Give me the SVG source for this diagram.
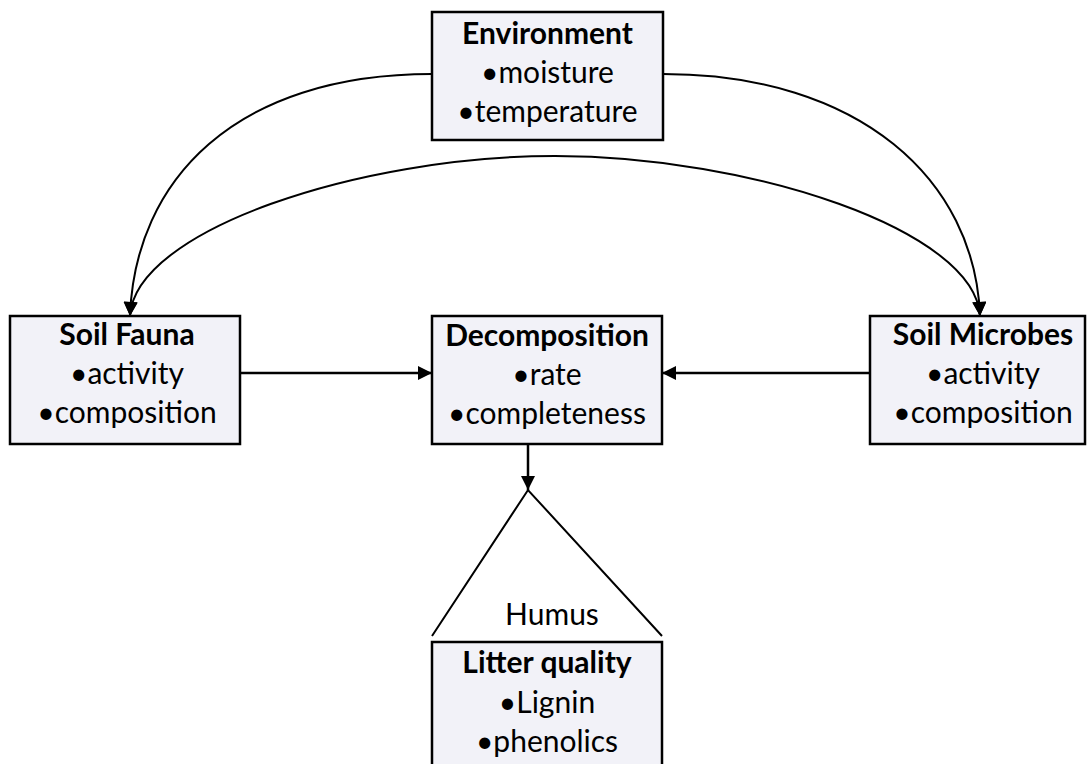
<svg xmlns="http://www.w3.org/2000/svg" width="1090" height="764" viewBox="0 0 1090 764">
<style>
.box{fill:#F2F2F8;stroke:#000;stroke-width:2.5}
.t{font-family:Lato,"Open Sans","Liberation Sans",sans-serif;font-size:30px;text-anchor:middle;fill:#000}
.b{font-weight:bold}
.c{fill:none;stroke:#000;stroke-width:2}
.s{fill:none;stroke:#000;stroke-width:2.5}
</style>
<defs>
<marker id="ah" viewBox="0 0 10 10" refX="10" refY="5" markerWidth="15" markerHeight="14" markerUnits="userSpaceOnUse" orient="auto-start-reverse">
<path d="M0,0 L10,5 L0,10 Z" fill="#000"/>
</marker>
</defs>
<rect width="1090" height="764" fill="#fff"/>
<g id="connectors">
<path class="c" d="M432,74 C235,74 135,180 130,316" marker-end="url(#ah)"/>
<path class="c" d="M663,74 C860,74 975,180 980,316" marker-end="url(#ah)"/>
<path class="c" d="M130,316 C135,230 360,156 555,156 C750,156 975,230 980,316" marker-start="url(#ah)" marker-end="url(#ah)"/>
<path class="s" d="M240,373 L432,373" marker-end="url(#ah)"/>
<path class="s" d="M870,373 L662,373" marker-end="url(#ah)"/>
<path class="s" d="M528,444 L528,490" marker-end="url(#ah)"/>
</g>
<g id="environment">
<rect class="box" x="432" y="12" width="231" height="128"/>
<text class="t b" x="547.5" y="44">Environment</text>
<text class="t" x="547.5" y="83">•moisture</text>
<text class="t" x="547.5" y="122">•temperature</text>
</g>
<g id="soil-fauna">
<rect class="box" x="10" y="316" width="230" height="128"/>
<text class="t b" x="127" y="345">Soil Fauna</text>
<text class="t" x="127" y="384">•activity</text>
<text class="t" x="127" y="423">•composition</text>
</g>
<g id="decomposition">
<rect class="box" x="432" y="316" width="230" height="128"/>
<text class="t b" x="547" y="346">Decomposition</text>
<text class="t" x="547" y="385">•rate</text>
<text class="t" x="547" y="424">•completeness</text>
</g>
<g id="soil-microbes">
<rect class="box" x="870" y="316" width="215" height="128"/>
<text class="t b" x="983" y="345">Soil Microbes</text>
<text class="t" x="983" y="384">•activity</text>
<text class="t" x="983" y="423">•composition</text>
</g>
<g id="humus">
<path class="c" d="M432,636 L528,490 L662,636"/>
<text class="t" x="552" y="625">Humus</text>
</g>
<g id="litter-quality">
<rect class="box" x="432" y="642" width="230" height="140"/>
<text class="t b" x="547" y="673">Litter quality</text>
<text class="t" x="547" y="713">•Lignin</text>
<text class="t" x="547" y="752">•phenolics</text>
</g>
</svg>
